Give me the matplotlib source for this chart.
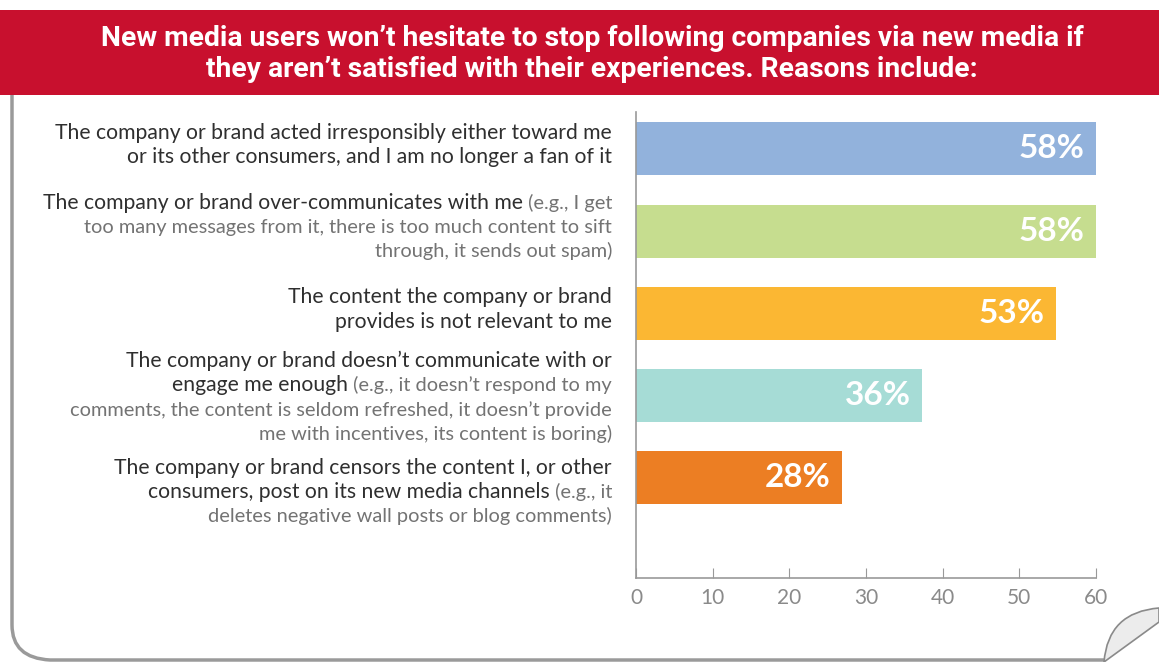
import matplotlib
matplotlib.use("Agg")
import matplotlib.pyplot as plt
from matplotlib.patches import Rectangle, PathPatch
from matplotlib.path import Path

W, H = 1159, 662

TITLE = ("New media users won\u2019t hesitate to stop following companies via new media if\n"
         "they aren\u2019t satisfied with their experiences. Reasons include:")

PCT_LABELS = ["58%", "58%", "53%", "36%", "28%"]
# bar lengths as they are drawn against the axis scale
BAR_LEN = [60.0, 60.0, 54.8, 37.3, 26.9]
COLORS = ["#92b2dc", "#c6dd8f", "#fbb733", "#a6dcd6", "#ec7e23"]
XTICKS = [0, 10, 20, 30, 40, 50, 60]

# each reason: lines, each line a list of (text, emphasised)
REASONS = [
    [[("The company or brand acted irresponsibly either toward me", True)],
     [("or its other consumers, and I am no longer a fan of it", True)]],
    [[("The company or brand over-communicates with me", True), (" (e.g., I get", False)],
     [("too many messages from it, there is too much content to sift", False)],
     [("through, it sends out spam)", False)]],
    [[("The content the company or brand", True)],
     [("provides is not relevant to me", True)]],
    [[("The company or brand doesn\u2019t communicate with or", True)],
     [("engage me enough", True), (" (e.g., it doesn\u2019t respond to my", False)],
     [("comments, the content is seldom refreshed, it doesn\u2019t provide", False)],
     [("me with incentives, its content is boring)", False)]],
    [[("The company or brand censors the content I, or other", True)],
     [("consumers, post on its new media channels", True), (" (e.g., it", False)],
     [("deletes negative wall posts or blog comments)", False)]],
]

FONT = ["Lato", "DejaVu Sans"]
TITLE_FONT = ["Liberation Sans Narrow", "Roboto", "DejaVu Sans"]

fig = plt.figure(figsize=(W / 100, H / 100), dpi=100)
fig.patch.set_facecolor("white")


def fx(px):
    return px / W


def fy(py):
    return 1 - py / H


# red title banner
fig.patches.append(Rectangle((0, fy(95)), 1, fy(10) - fy(95), transform=fig.transFigure,
                             facecolor="#c8102e", edgecolor="none", zorder=0))
fig.text(fx(592), fy(54), TITLE, ha="center", va="center", color="white", fontsize=20.3,
         fontweight="bold", family=TITLE_FONT, linespacing=1.15)

# card border (left + rounded bottom)
verts = [(fx(12), fy(95)), (fx(12), fy(625)), (fx(12), fy(658)), (fx(50), fy(660)), (fx(1104), fy(660))]
codes = [Path.MOVETO, Path.LINETO, Path.CURVE3, Path.CURVE3, Path.LINETO]
fig.patches.append(PathPatch(Path(verts, codes), transform=fig.transFigure, fill=False,
                             edgecolor="#9a9a9a", linewidth=2.5))
# page curl
curl = [(fx(1104), fy(662)), (fx(1108), fy(612)), (fx(1159), fy(608)),
        (fx(1159), fy(622)), (fx(1104), fy(662))]
ccodes = [Path.MOVETO, Path.CURVE3, Path.CURVE3, Path.LINETO, Path.CLOSEPOLY]
fig.patches.append(PathPatch(Path(curl, ccodes), transform=fig.transFigure,
                             facecolor="#ececec", edgecolor="#8a8a8a", linewidth=1.2))

# bar axes
ax = fig.add_axes([fx(636), fy(578), fx(1096) - fx(636), fy(112) - fy(578)])
ypos = list(range(len(BAR_LEN)))
ax.barh(ypos, BAR_LEN, height=0.645, color=COLORS, zorder=2)
for y, v, lab in zip(ypos, BAR_LEN, PCT_LABELS):
    ax.text(v - 1.5, y, lab, ha="right", va="center", color="white", fontsize=24,
            fontweight="bold", family=FONT, zorder=3)
ax.set_xlim(0, 60)
ax.set_ylim(5.22, -0.45)
ax.set_yticks([])
ax.set_xticks(XTICKS)
ax.tick_params(axis="x", direction="in", length=7, color="#999999", labelcolor="#8a8a8a",
               labelsize=15, pad=7)
for lbl in ax.get_xticklabels():
    lbl.set_family(FONT)
for s in ("top", "right"):
    ax.spines[s].set_visible(False)
for s in ("left", "bottom"):
    ax.spines[s].set_color("#999999")
    ax.spines[s].set_linewidth(1.2)

# reason labels with mixed emphasis, right aligned at x=612 px
renderer = fig.canvas.get_renderer()
centers = [145, 227, 309.5, 397.5, 492]
line_h = 24.2
right_px = 612
for reason, cy in zip(REASONS, centers):
    n = len(reason)
    for i, line in enumerate(reason):
        py = cy + (i - (n - 1) / 2) * line_h
        x_px = right_px
        for text, strong in reversed(line):
            t = fig.text(fx(x_px), fy(py), text, ha="right", va="center",
                         fontsize=15.2 if strong else 14.4, family=FONT,
                         color="#2f2f2f" if strong else "#737373")
            bb = t.get_window_extent(renderer)
            x_px -= bb.width

fig.savefig("out.png", dpi=100)
